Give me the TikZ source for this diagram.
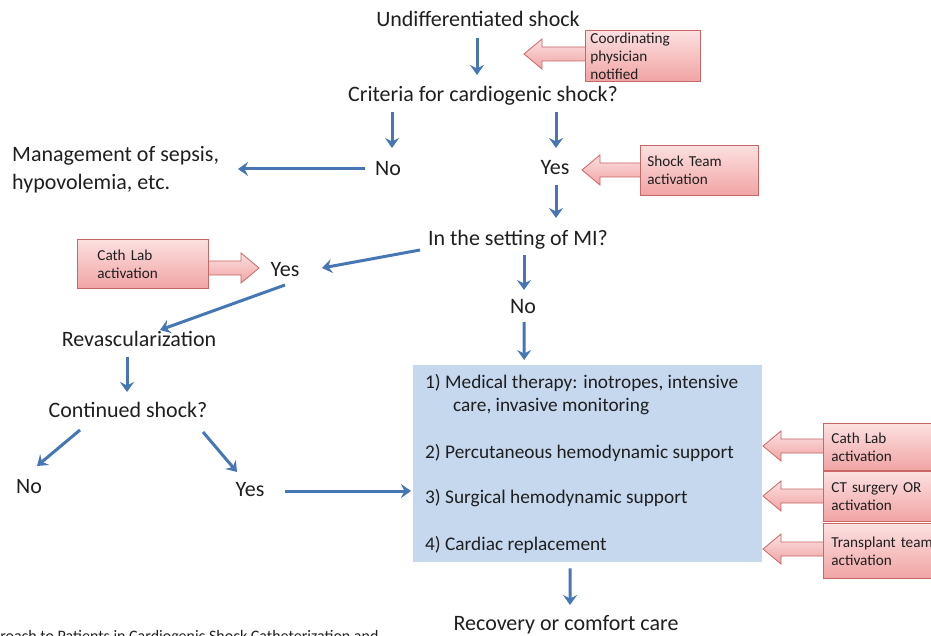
\documentclass[tikz,border=0pt]{standalone}
\usepackage{fontspec}
\setmainfont{Carlito}
\usetikzlibrary{arrows.meta,calc}
\definecolor{flowblue}{HTML}{4676B4}
\definecolor{boxblue}{HTML}{C6D8EE}
\definecolor{pinktop}{HTML}{FCE0E0}
\definecolor{pinkbot}{HTML}{F1A4A4}
\definecolor{pinkline}{HTML}{C96666}
\begin{document}
\begin{tikzpicture}[x=1pt,y=-1pt,
  lbl/.style={font=\fontsize{22}{28}\selectfont, inner sep=0pt, text=black!88},
  boxtxt/.style={font=\fontsize{19.3}{22}\selectfont, inner sep=0pt, anchor=west, text=black!88},
  flow/.style={draw=flowblue, line width=3pt, -{Stealth[length=10pt,width=14pt,inset=3.5pt]}},
  pinkbox/.style={draw=pinkline, line width=0.8pt, top color=pinktop, bottom color=pinkbot,
    anchor=north west, align=left, font=\fontsize{15.2}{18}\selectfont, text=black!88,
    inner xsep=0pt, inner ysep=0pt, text width=100pt},
  pinkarr/.style={draw=pinkline, line width=0.8pt, top color=pinktop, bottom color=pinkbot, line join=miter},
]
\useasboundingbox (0,0) rectangle (931,636);
\clip (0,0) rectangle (931,636);

% main text nodes
\node[lbl] (start) at (478,19) {Undifferentiated shock};
\node[lbl] (crit) at (483,96) {Criteria for cardiogenic shock?};
\node[lbl] (no1) at (388,169) {No};
\node[lbl] (yes1) at (555,168) {Yes};
\node[lbl, anchor=west, align=left] (mgmt) at (12,170) {Management of sepsis,\\hypovolemia, etc.};
\node[lbl] (mi) at (518,240) {In the setting of MI?};
\node[lbl] (yes2) at (285,270) {Yes};
\node[lbl] (no2) at (523,307) {No};
\node[lbl] (revasc) at (139,339) {Revascularization};
\node[lbl] (cont) at (128,410) {Continued shock?};
\node[lbl] (no3) at (29,487) {No};
\node[lbl] (yes3) at (250,490) {Yes};
\node[lbl] (recov) at (566,625) {Recovery or comfort care};

% therapy box
\node[fill=boxblue, draw=none, minimum width=349pt, minimum height=197pt, inner sep=0pt, anchor=north west] (therapy) at (413,365) {};
\node[boxtxt] (t1) at (425,383) {1) Medical therapy: inotropes, intensive};
\node[boxtxt] (t1b) at (453,407) {care, invasive monitoring};
\node[boxtxt] (t2) at (425,453) {2) Percutaneous hemodynamic support};
\node[boxtxt] (t3) at (425,498) {3) Surgical hemodynamic support};
\node[boxtxt] (t4) at (425,545) {4) Cardiac replacement};

% pink block arrows (drawn first, boxes on top)
\draw[pinkarr] (524,54) -- ++(18,-15) -- ++(0,8) -- (590,47) -- (590,61) -- (542,61) -- ++(0,8) -- cycle;
\node[pinkbox, minimum width=113pt, minimum height=51pt, text width=105pt, inner xsep=5pt] (coord) at (585,30) {Coordinating\\physician\\notified};
\draw[pinkarr] (582,170) -- ++(18,-15) -- ++(0,8) -- (645,163) -- (645,177) -- (600,177) -- ++(0,8) -- cycle;
\node[pinkbox, minimum width=113pt, minimum height=50pt, text width=104pt, inner xsep=7pt] (shock) at (640,145) {Shock Team\\activation};
\draw[pinkarr] (259,268) -- ++(-18,-15) -- ++(0,8) -- (183,261) -- (183,275) -- (241,275) -- ++(0,8) -- cycle;
\node[pinkbox, minimum width=111pt, minimum height=49pt, text width=91pt, inner xsep=20pt] (cath1) at (77,239) {Cath Lab\\activation};
\draw[pinkarr] (763,446) -- ++(18,-15) -- ++(0,8) -- (828,439) -- (828,453) -- (781,453) -- ++(0,8) -- cycle;
\draw[pinkarr] (763,496) -- ++(18,-15) -- ++(0,8) -- (828,489) -- (828,503) -- (781,503) -- ++(0,8) -- cycle;
\draw[pinkarr] (763,549) -- ++(18,-15) -- ++(0,8) -- (828,542) -- (828,556) -- (781,556) -- ++(0,8) -- cycle;
\node[pinkbox, minimum width=115pt, minimum height=47pt, text width=108pt, inner xsep=8pt] (cath2) at (823,423) {Cath Lab\\activation};
\node[pinkbox, minimum width=115pt, minimum height=50pt, text width=108pt, inner xsep=8pt] (ctor) at (823,471) {CT surgery OR\\activation};
\node[pinkbox, minimum width=115pt, minimum height=55pt, text width=108pt, inner xsep=8pt] (trans) at (823,523) {Transplant team\\activation};

% connectors
\draw[flow] ($(start.center)+(-1,19)$) -- ($(crit.center)+(-6,-21)$);
\draw[flow] ($(crit.center)+(-91,16)$) -- ($(no1.center)+(4,-21)$);
\draw[flow] ($(crit.center)+(73,16)$) -- ($(yes1.center)+(1,-20)$);
\draw[flow] ($(no1.center)+(-23,0)$) -- ($(mgmt.west)+(226,-1)$);
\draw[flow] ($(yes1.center)+(1,17)$) -- ($(mi.center)+(38,-22)$);
\draw[flow] ($(mi.center)+(-98,10)$) -- ($(yes2.center)+(37,-2)$);
\draw[flow] ($(mi.center)+(6,15)$) -- ($(no2.center)+(1,-17)$);
\draw[flow] ($(no2.center)+(1,15)$) -- ($(therapy.north)+(-63.5,-5)$);
\draw[flow] ($(yes2.center)+(0,15)$) -- ($(revasc.center)+(21,-9)$);
\draw[flow] ($(revasc.center)+(-12,18)$) -- ($(cont.center)+(-1,-18)$);
\draw[flow] ($(cont.center)+(-48,20)$) -- ($(no3.center)+(8,-21)$);
\draw[flow] ($(cont.center)+(75,22)$) -- ($(yes3.center)+(-13,-18)$);
\draw[flow] ($(yes3.center)+(35,1)$) -- ($(therapy.west|-yes3.center)+(-2,1)$);
\draw[flow] ($(therapy.south)+(-17.5,6)$) -- ($(recov.center)+(4,-20)$);

% clipped caption
\node[font=\fontsize{16}{18}\selectfont, inner sep=0pt, anchor=base west, text=black!88] (caption) at (-26,641) {Approach to Patients in Cardiogenic Shock Catheterization and};
\end{tikzpicture}
\end{document}
